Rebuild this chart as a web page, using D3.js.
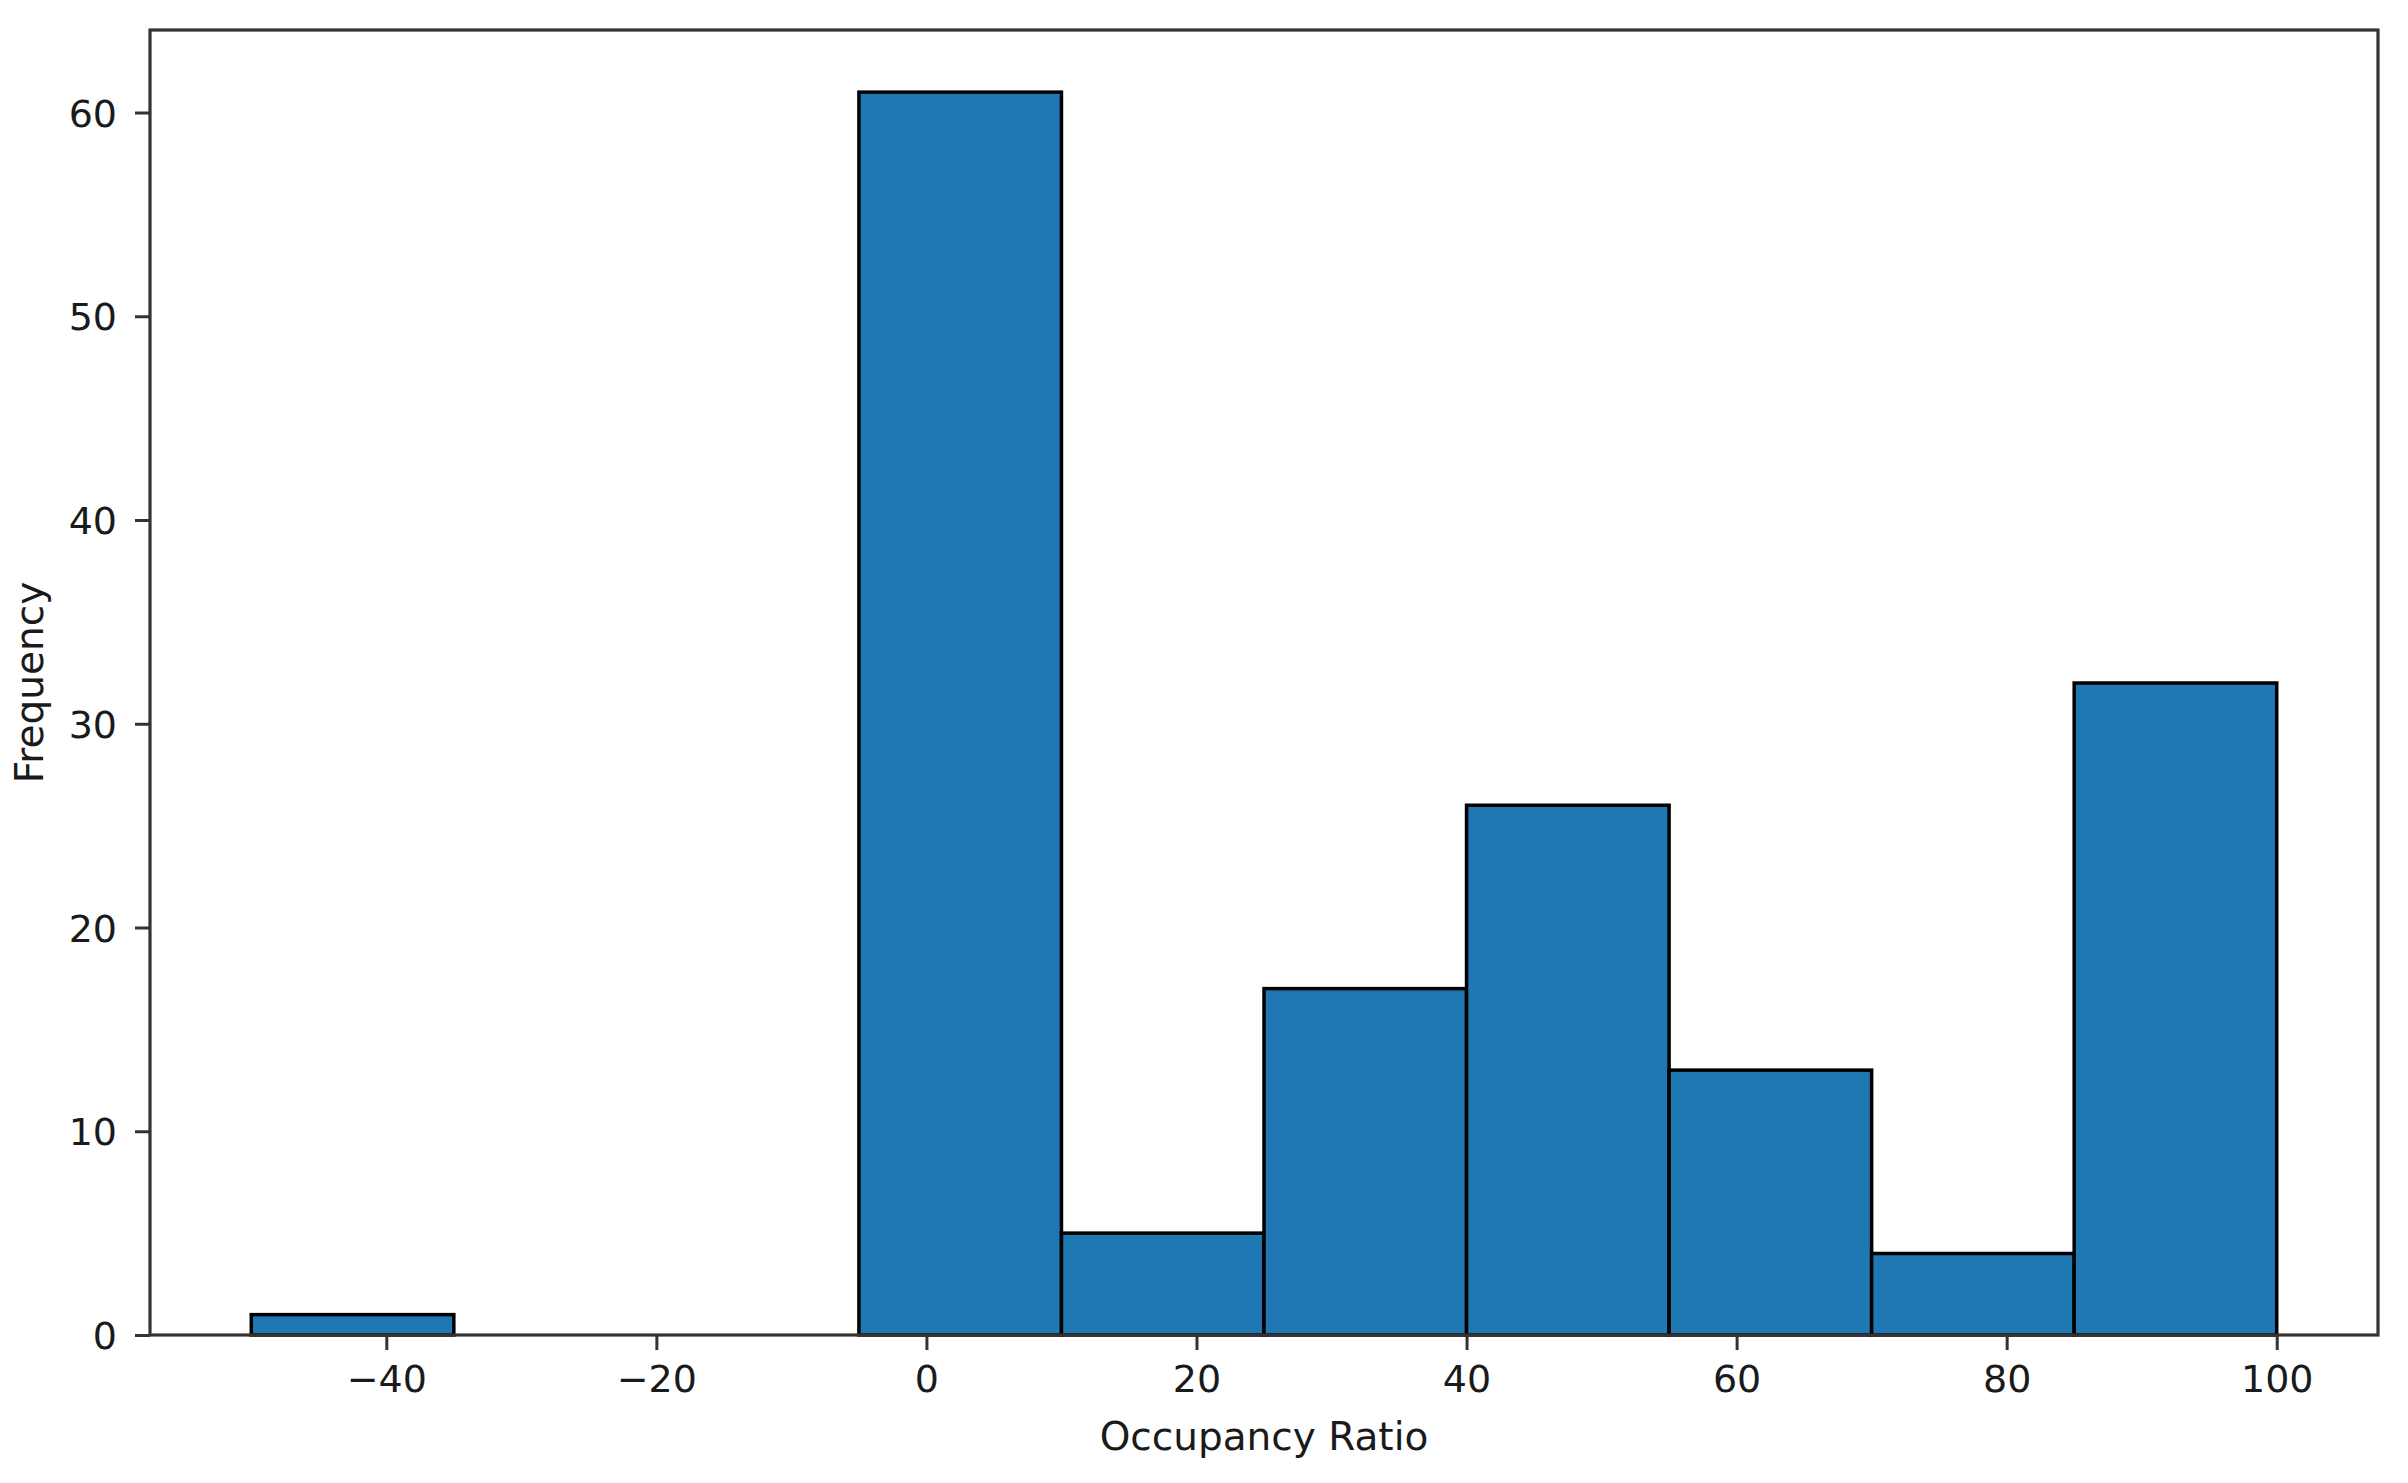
<!DOCTYPE html>
<html>
<head>
<meta charset="utf-8">
<script src="https://cdn.jsdelivr.net/npm/d3@7"></script>
<style>
  html, body { margin: 0; padding: 0; background: #ffffff; }
  svg { display: block; }
  text { font-family: "DejaVu Sans", sans-serif; fill: #1a1a1a; }
</style>
</head>
<body>
<svg id="chart" width="2408" height="1483"></svg>
<script>
// ---- data ----
const binEdges = [-50, -35, -20, -5, 10, 25, 40, 55, 70, 85, 100];
const counts = [1, 0, 0, 61, 5, 17, 26, 13, 4, 32];
const xTicks = [-40, -20, 0, 20, 40, 60, 80, 100];
const yTicks = [0, 10, 20, 30, 40, 50, 60];
const xLabel = "Occupancy Ratio";
const yLabel = "Frequency";

// ---- layout ----
const W = 2408, H = 1483;
const plot = { left: 150, right: 2378, top: 30, bottom: 1335 };
const fs = 38;

const xMin = binEdges[0], xMax = binEdges[binEdges.length - 1];
const xPad = (xMax - xMin) * 0.05;
const yMax = d3.max(counts) * 1.05;

const x = d3.scaleLinear().domain([xMin - xPad, xMax + xPad]).range([plot.left, plot.right]);
const y = d3.scaleLinear().domain([0, yMax]).range([plot.bottom, plot.top]);

const svg = d3.select("#chart");

const bins = counts.map((c, i) => ({ x0: binEdges[i], x1: binEdges[i + 1], c }));

svg.append("g").selectAll("rect").data(bins).join("rect")
  .attr("x", d => x(d.x0))
  .attr("y", d => y(d.c))
  .attr("width", d => x(d.x1) - x(d.x0))
  .attr("height", d => y(0) - y(d.c))
  .attr("fill", "#1f77b4")
  .attr("stroke", "#000")
  .attr("stroke-width", 3.5);

// frame
svg.append("rect")
  .attr("x", plot.left).attr("y", plot.top)
  .attr("width", plot.right - plot.left).attr("height", plot.bottom - plot.top)
  .attr("fill", "none").attr("stroke", "#333").attr("stroke-width", 3.2);

const fmt = v => (v < 0 ? "\u2212" + Math.abs(v) : String(v));

// x axis
const xAxis = d3.axisBottom(x).tickValues(xTicks).tickFormat(fmt).tickSize(15).tickPadding(14);
const gx = svg.append("g").attr("transform", `translate(0,${plot.bottom})`).call(xAxis);
gx.select(".domain").remove();
gx.selectAll(".tick line").attr("stroke", "#333").attr("stroke-width", 3);
gx.selectAll(".tick text").attr("font-size", fs).attr("fill", "#1a1a1a")
  .attr("font-family", "DejaVu Sans").attr("dy", "0.74em");

// y axis
const yAxis = d3.axisLeft(y).tickValues(yTicks).tickFormat(fmt).tickSize(15).tickPadding(18);
const gy = svg.append("g").attr("transform", `translate(${plot.left},0)`).call(yAxis);
gy.select(".domain").remove();
gy.selectAll(".tick line").attr("stroke", "#333").attr("stroke-width", 3);
gy.selectAll(".tick text").attr("font-size", fs).attr("fill", "#1a1a1a")
  .attr("font-family", "DejaVu Sans").attr("dy", "0.36em");

// axis labels
svg.append("text")
  .attr("x", (plot.left + plot.right) / 2).attr("y", 1450)
  .attr("text-anchor", "middle").attr("font-size", fs + 1)
  .text(xLabel);

svg.append("text")
  .attr("transform", `translate(43,${(plot.top + plot.bottom) / 2}) rotate(-90)`)
  .attr("text-anchor", "middle").attr("font-size", fs + 1)
  .text(yLabel);
</script>
</body>
</html>
